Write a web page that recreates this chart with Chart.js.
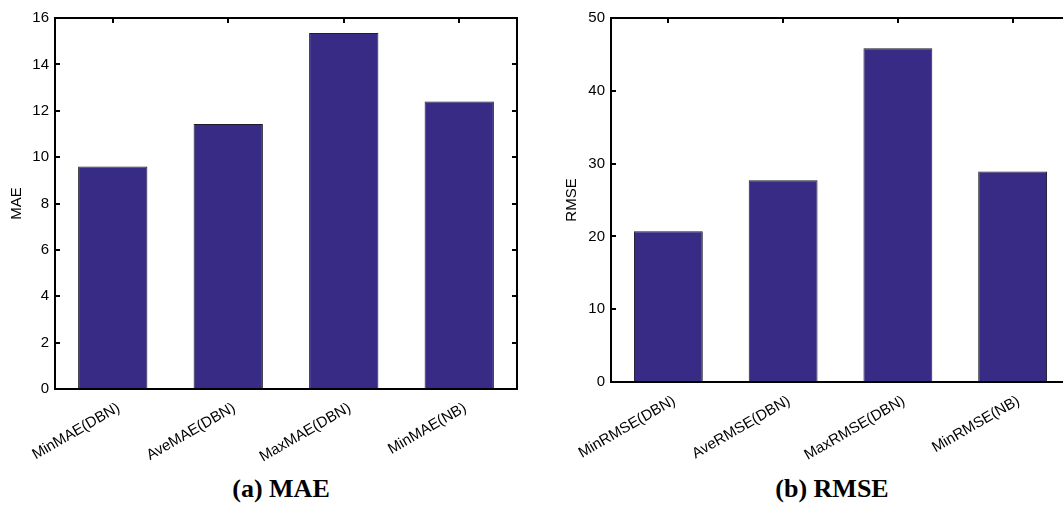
<!DOCTYPE html>
<html>
<head>
<meta charset="utf-8">
<script src="https://cdn.jsdelivr.net/npm/chart.js@4/dist/chart.umd.min.js"></script>
<style>
  html, body { margin:0; padding:0; background:#fff; width:1063px; height:512px; overflow:hidden; }
  .box { position:absolute; top:0; }
  .cap { position:absolute; top:474px; line-height:30px; font-family:"Liberation Serif","Times New Roman",serif; font-weight:bold; font-size:26px; color:#000; white-space:nowrap; transform:translateX(-50%); }
</style>
</head>
<body>
<div class="box" style="left:0;width:540px;height:472px;"><canvas id="c1" width="540" height="472"></canvas></div>
<div class="box" style="left:540px;width:540px;height:472px;"><canvas id="c2" width="540" height="472"></canvas></div>
<div class="cap" style="left:281px;">(a) MAE</div>
<div class="cap" style="left:832px;">(b) RMSE</div>
<script>
const maeCategories = ['MinMAE(DBN)', 'AveMAE(DBN)', 'MaxMAE(DBN)', 'MinMAE(NB)'];
const maeValues = [9.6, 11.43, 15.35, 12.4];
const rmseCategories = ['MinRMSE(DBN)', 'AveRMSE(DBN)', 'MaxRMSE(DBN)', 'MinRMSE(NB)'];
const rmseValues = [20.7, 27.7, 45.85, 28.9];
const maeAxis = { min: 0, max: 16, step: 2, title: 'MAE' };
const rmseAxis = { min: 0, max: 50, step: 10, title: 'RMSE' };

const BAR_FILL = '#372b85';
const BAR_EDGE = '#1c1c2a';
const CANVAS_H = 472;

const framePlugin = {
  id: 'frame',
  afterDatasetsDraw(chart) {
    const { ctx, chartArea: { left, right, top, bottom }, scales: { x, y } } = chart;
    ctx.save();
    ctx.strokeStyle = '#000';
    ctx.lineWidth = 2;
    ctx.strokeRect(left, top, right - left, bottom - top);
    const tl = 5;
    ctx.beginPath();
    y.ticks.forEach((t, i) => {
      const py = Math.round(y.getPixelForTick(i));
      ctx.moveTo(left, py); ctx.lineTo(left + tl, py);
      ctx.moveTo(right, py); ctx.lineTo(right - tl, py);
    });
    x.ticks.forEach((t, i) => {
      const px = Math.round(x.getPixelForTick(i));
      ctx.moveTo(px, top); ctx.lineTo(px, top + tl);
    });
    ctx.stroke();
    ctx.restore();
  }
};

function makeChart(id, cats, vals, axis, yWidth, plotBottom, pad, titlePad) {
  return new Chart(document.getElementById(id), {
    type: 'bar',
    data: {
      labels: cats,
      datasets: [{
        data: vals,
        backgroundColor: BAR_FILL,
        borderColor: BAR_EDGE,
        borderWidth: 1,
        categoryPercentage: 1.0,
        barPercentage: 0.6
      }]
    },
    options: {
      responsive: false,
      animation: false,
      devicePixelRatio: 1,
      layout: { padding: pad },
      plugins: { legend: { display: false }, tooltip: { enabled: false } },
      scales: {
        x: {
          grid: { display: false, drawTicks: false },
          border: { display: false },
          ticks: {
            color: '#000',
            font: { family: 'Liberation Sans, Arial, sans-serif', size: 15 },
            minRotation: 30, maxRotation: 30,
            autoSkip: false,
            padding: 10,
            labelOffset: 6
          },
          afterFit(s) { s.height = CANVAS_H - plotBottom; }
        },
        y: {
          min: axis.min, max: axis.max,
          grid: { display: false, drawTicks: false },
          border: { display: false },
          ticks: {
            stepSize: axis.step,
            color: '#000',
            font: { family: 'Liberation Sans, Arial, sans-serif', size: 15 },
            padding: 6
          },
          title: {
            display: true,
            text: axis.title,
            color: '#000',
            font: { family: 'Liberation Sans, Arial, sans-serif', size: 15 },
            padding: { top: titlePad, bottom: 0 }
          },
          afterFit(s) { s.width = yWidth; }
        }
      }
    },
    plugins: [framePlugin]
  });
}

makeChart('c1', maeCategories, maeValues, maeAxis, 55, 389, { top: 18, right: 23, left: 0, bottom: 0 }, 8);
makeChart('c2', rmseCategories, rmseValues, rmseAxis, 71, 382, { top: 18, right: 10, left: 0, bottom: 0 }, 23);
</script>
</body>
</html>
